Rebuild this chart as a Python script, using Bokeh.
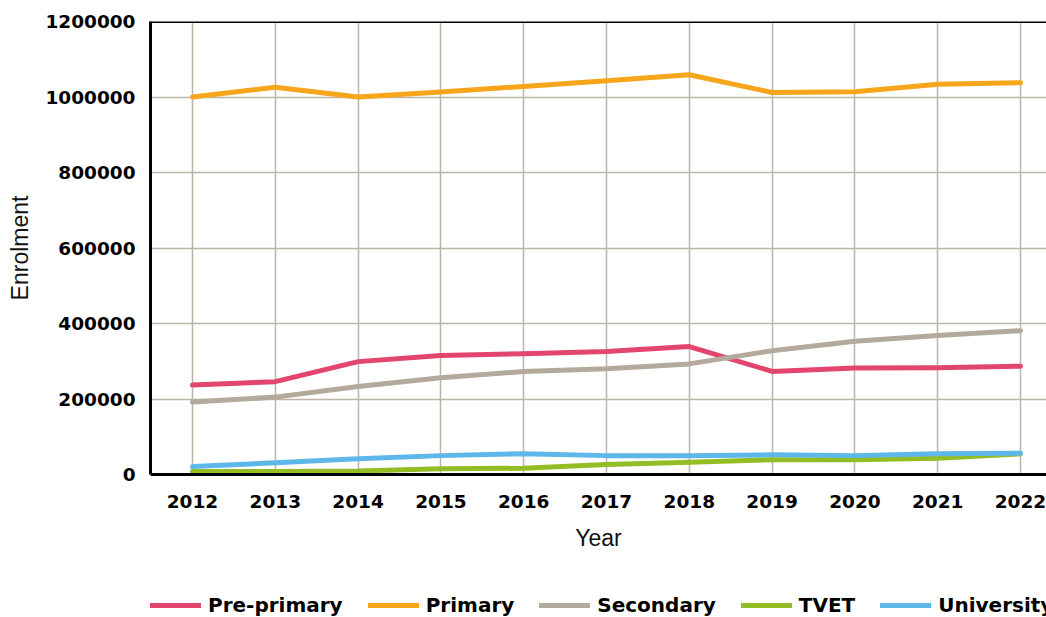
from bokeh.plotting import figure
from bokeh.layouts import column
from bokeh.models import Legend, LegendItem, Span, FixedTicker, Range1d, NumeralTickFormatter
from bokeh.embed import file_html
from bokeh.resources import INLINE

years = [2012, 2013, 2014, 2015, 2016, 2017, 2018, 2019, 2020, 2021, 2022]
pre_primary = [237000, 246000, 299000, 315000, 320000, 326000, 339000, 273000, 282000, 283000, 287000]
primary = [1000000, 1026000, 1000000, 1013000, 1028000, 1043000, 1059000, 1012000, 1014000, 1034000, 1038000]
secondary = [192000, 205000, 233000, 256000, 273000, 280000, 293000, 328000, 353000, 368000, 381000]
tvet = [8000, 8000, 9000, 15000, 16500, 26500, 32600, 39000, 39000, 43000, 55000]
university = [21000, 31000, 41500, 50000, 55000, 50000, 50000, 52000, 50000, 55000, 56500]

series_names = ["Pre-primary", "Primary", "Secondary", "TVET", "University"]
series_values = [pre_primary, primary, secondary, tvet, university]
series_colors = ["#e2466e", "#f7a51b", "#b3aa9b", "#93bd24", "#5db7e8"]
y_ticks = [0, 200000, 400000, 600000, 800000, 1000000, 1200000]

p = figure(width=1046, height=580, output_backend="svg", toolbar_location=None,
           x_range=Range1d(2011.493, 2022.314), y_range=Range1d(0, 1200000),
           min_border_left=150, min_border_right=0, min_border_top=21, min_border_bottom=106)

p.outline_line_color = None
p.background_fill_color = "white"
p.border_fill_color = "white"

grid_color = "#bdb4a7"
p.xgrid.grid_line_color = grid_color
p.xgrid.grid_line_width = 1.5
p.ygrid.grid_line_color = grid_color
p.ygrid.grid_line_width = 1.5

p.xaxis.ticker = FixedTicker(ticks=years)
p.yaxis.ticker = FixedTicker(ticks=y_ticks)
p.yaxis.formatter = NumeralTickFormatter(format="0")

for ax in (p.xaxis[0], p.yaxis[0]):
    ax.axis_line_color = "black"
    ax.axis_line_width = 3
    ax.major_tick_line_color = None
    ax.minor_tick_line_color = None
    ax.major_label_text_font = "DejaVu Sans"
    ax.major_label_text_font_style = "bold"
    ax.major_label_text_font_size = "18.5px"
    ax.major_label_text_color = "black"
    ax.axis_label_text_font = "Liberation Sans"
    ax.axis_label_text_font_style = "normal"
    ax.axis_label_text_font_size = "23px"
    ax.axis_label_text_color = "#111111"

p.xaxis.axis_label = "Year"
p.yaxis.axis_label = "Enrolment"
p.xaxis.major_label_standoff = 14
p.yaxis.major_label_standoff = 9
p.xaxis.axis_label_standoff = 14
p.yaxis.axis_label_standoff = 9

p.add_layout(Span(location=1200000, dimension="width", line_color="black", line_width=3))

for vals, col in zip(series_values, series_colors):
    p.line(years, vals, line_color=col, line_width=5, line_cap="round", line_join="round")

# legend strip below the chart
lg = figure(width=1046, height=37, output_backend="svg", toolbar_location=None,
            x_range=Range1d(0, 1), y_range=Range1d(0, 1),
            x_axis_location=None, y_axis_location=None,
            min_border_left=147, min_border_right=0, min_border_top=0, min_border_bottom=0)
lg.outline_line_color = None
lg.xgrid.visible = False
lg.ygrid.visible = False

items = []
for name, vals, col in zip(series_names, series_values, series_colors):
    r = lg.line(years, vals, line_color=col, line_width=5, line_cap="round")
    items.append(LegendItem(label=name, renderers=[r]))

legend = Legend(items=items, orientation="horizontal", location=(0, 0),
                padding=0, margin=0, spacing=25, label_standoff=7,
                glyph_width=51, glyph_height=20, label_height=20,
                label_text_font="DejaVu Sans", label_text_font_style="bold",
                label_text_font_size="20px", label_text_color="black",
                border_line_color=None, background_fill_alpha=0)
lg.add_layout(legend, "center")

open("out.html", "w").write(file_html(column(p, lg, spacing=0), INLINE))
